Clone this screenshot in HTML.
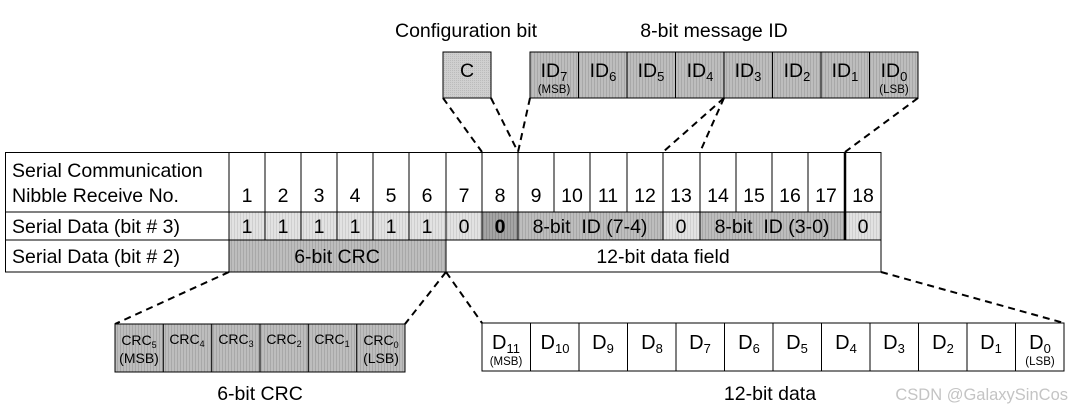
<!DOCTYPE html>
<html><head><meta charset="utf-8"><style>
html,body{margin:0;padding:0;background:#fff;}
svg{display:block;font-family:"Liberation Sans",Arial,sans-serif;}
</style></head><body>
<svg width="1074" height="414" viewBox="0 0 1074 414" xmlns="http://www.w3.org/2000/svg">
<defs>
<pattern id="pl" width="3" height="4" patternUnits="userSpaceOnUse"><rect width="3" height="4" fill="#e2e2e2"/><rect width="1" height="4" fill="#cfcfcf"/></pattern>
<pattern id="pm" width="3" height="4" patternUnits="userSpaceOnUse"><rect width="3" height="4" fill="#bdbdbd"/><rect width="1" height="4" fill="#a8a8a8"/></pattern>
<pattern id="pd" width="3" height="4" patternUnits="userSpaceOnUse"><rect width="3" height="4" fill="#a4a4a4"/><rect width="1" height="4" fill="#8e8e8e"/></pattern>
<pattern id="pc" width="2" height="2" patternUnits="userSpaceOnUse"><rect width="2" height="2" fill="#cfcfcf"/><rect width="1" height="1" fill="#bbb"/></pattern>
</defs>
<g font-size="19.5" fill="#000">
<text x="466" y="37" text-anchor="middle">Configuration bit</text>
<text x="714" y="37" text-anchor="middle">8-bit message ID</text>
</g>
<rect x="443" y="52" width="48" height="46" fill="url(#pc)" stroke="#000"/>
<text x="467" y="77" font-size="19.5" text-anchor="middle">C</text>
<g stroke="#000" fill="url(#pm)">
<rect x="530" y="52" width="388" height="46"/>
<line x1="578.5" y1="52" x2="578.5" y2="98"/><line x1="627" y1="52" x2="627" y2="98"/><line x1="675.5" y1="52" x2="675.5" y2="98"/><line x1="724" y1="52" x2="724" y2="98"/><line x1="772.5" y1="52" x2="772.5" y2="98"/><line x1="821" y1="52" x2="821" y2="98"/><line x1="869.5" y1="52" x2="869.5" y2="98"/>
</g>
<g font-size="19.5" text-anchor="middle">
<text x="554" y="77">ID<tspan font-size="13" dy="4">7</tspan></text>
<text x="603" y="77">ID<tspan font-size="13" dy="4">6</tspan></text>
<text x="651" y="77">ID<tspan font-size="13" dy="4">5</tspan></text>
<text x="700" y="77">ID<tspan font-size="13" dy="4">4</tspan></text>
<text x="748" y="77">ID<tspan font-size="13" dy="4">3</tspan></text>
<text x="797" y="77">ID<tspan font-size="13" dy="4">2</tspan></text>
<text x="845" y="77">ID<tspan font-size="13" dy="4">1</tspan></text>
<text x="894" y="77">ID<tspan font-size="13" dy="4">0</tspan></text>
</g>
<text x="554" y="93" font-size="11.5" text-anchor="middle">(MSB)</text>
<text x="894" y="93" font-size="11.5" text-anchor="middle">(LSB)</text>
<g stroke="#000" stroke-width="2" stroke-dasharray="7,5" fill="none">
<line x1="443" y1="98" x2="482" y2="152"/>
<line x1="491" y1="98" x2="518" y2="152"/>
<line x1="530" y1="98" x2="518" y2="152"/>
<line x1="724" y1="98" x2="663" y2="152"/>
<line x1="724" y1="98" x2="700" y2="152"/>
<line x1="918" y1="98" x2="845" y2="152"/>
<line x1="229" y1="272" x2="115" y2="324"/>
<line x1="446" y1="272" x2="405" y2="324"/>
<line x1="446" y1="272" x2="482" y2="323"/>
<line x1="881" y1="272" x2="1064" y2="323"/>
</g>
<rect x="229" y="212" width="253" height="28" fill="url(#pl)"/>
<rect x="482" y="212" width="36" height="28" fill="url(#pd)"/>
<rect x="518" y="212" width="145" height="28" fill="url(#pm)"/>
<rect x="663" y="212" width="37" height="28" fill="url(#pl)"/>
<rect x="700" y="212" width="145" height="28" fill="url(#pm)"/>
<rect x="845" y="212" width="36" height="28" fill="url(#pl)"/>
<rect x="229" y="240" width="217" height="32" fill="url(#pm)"/>
<g stroke="#000" stroke-width="1" fill="none">
<rect x="5.5" y="152.5" width="875.5" height="119.5"/>
<line x1="5" y1="212" x2="881" y2="212"/>
<line x1="5" y1="240" x2="881" y2="240"/>
<line x1="229" y1="152" x2="229" y2="272"/>
<line x1="265" y1="152" x2="265" y2="240"/><line x1="301" y1="152" x2="301" y2="240"/><line x1="337" y1="152" x2="337" y2="240"/><line x1="373" y1="152" x2="373" y2="240"/><line x1="409" y1="152" x2="409" y2="240"/><line x1="446" y1="152" x2="446" y2="272"/><line x1="482" y1="152" x2="482" y2="240"/><line x1="518" y1="152" x2="518" y2="240"/>
<line x1="554" y1="152" x2="554" y2="212"/><line x1="590" y1="152" x2="590" y2="212"/><line x1="627" y1="152" x2="627" y2="212"/>
<line x1="663" y1="152" x2="663" y2="240"/><line x1="700" y1="152" x2="700" y2="240"/>
<line x1="736" y1="152" x2="736" y2="212"/><line x1="772" y1="152" x2="772" y2="212"/><line x1="808" y1="152" x2="808" y2="212"/>
<line x1="845" y1="152" x2="845" y2="240" stroke-width="2.5"/>
</g>
<g font-size="19.5">
<text x="12" y="177">Serial Communication</text>
<text x="12" y="202">Nibble Receive No.</text>
<text x="12" y="233">Serial Data (bit # 3)</text>
<text x="12" y="263">Serial Data (bit # 2)</text>
</g>
<g font-size="19.5" text-anchor="middle">
<text x="247" y="202">1</text><text x="283" y="202">2</text><text x="319" y="202">3</text><text x="355" y="202">4</text><text x="391" y="202">5</text><text x="427" y="202">6</text><text x="464" y="202">7</text><text x="500" y="202">8</text><text x="536" y="202">9</text><text x="572" y="202">10</text><text x="608" y="202">11</text><text x="645" y="202">12</text><text x="681" y="202">13</text><text x="718" y="202">14</text><text x="754" y="202">15</text><text x="790" y="202">16</text><text x="826" y="202">17</text><text x="863" y="202">18</text>
<text x="247" y="233">1</text><text x="283" y="233">1</text><text x="319" y="233">1</text><text x="355" y="233">1</text><text x="391" y="233">1</text><text x="427" y="233">1</text><text x="464" y="233">0</text><text x="500" y="233" font-weight="bold">0</text>
<text x="590" y="233">8-bit&#160; ID (7-4)</text>
<text x="681" y="233">0</text>
<text x="772" y="233">8-bit&#160; ID (3-0)</text>
<text x="863" y="233">0</text>
<text x="337" y="263">6-bit CRC</text>
<text x="663" y="263">12-bit data field</text>
</g>
<rect x="115" y="324" width="290" height="48" fill="url(#pm)" stroke="#000"/>
<g stroke="#000"><line x1="163.3" y1="324" x2="163.3" y2="372"/><line x1="211.7" y1="324" x2="211.7" y2="372"/><line x1="260" y1="324" x2="260" y2="372"/><line x1="308.3" y1="324" x2="308.3" y2="372"/><line x1="356.7" y1="324" x2="356.7" y2="372"/></g>
<g font-size="14" text-anchor="middle">
<text x="139" y="345">CRC<tspan font-size="9" dy="3">5</tspan></text>
<text x="187" y="344">CRC<tspan font-size="9" dy="3">4</tspan></text>
<text x="236" y="344">CRC<tspan font-size="9" dy="3">3</tspan></text>
<text x="284" y="344">CRC<tspan font-size="9" dy="3">2</tspan></text>
<text x="332" y="344">CRC<tspan font-size="9" dy="3">1</tspan></text>
<text x="381" y="345">CRC<tspan font-size="9" dy="3">0</tspan></text>
<text x="139" y="363">(MSB)</text>
<text x="381" y="363">(LSB)</text>
</g>
<text x="260" y="400" font-size="19.5" text-anchor="middle">6-bit CRC</text>
<rect x="482" y="323" width="582" height="48" fill="#fff" stroke="#000"/>
<g stroke="#000"><line x1="530.5" y1="323" x2="530.5" y2="371"/><line x1="579" y1="323" x2="579" y2="371"/><line x1="627.5" y1="323" x2="627.5" y2="371"/><line x1="676" y1="323" x2="676" y2="371"/><line x1="724.5" y1="323" x2="724.5" y2="371"/><line x1="773" y1="323" x2="773" y2="371"/><line x1="821.5" y1="323" x2="821.5" y2="371"/><line x1="870" y1="323" x2="870" y2="371"/><line x1="918.5" y1="323" x2="918.5" y2="371"/><line x1="967" y1="323" x2="967" y2="371"/><line x1="1015.5" y1="323" x2="1015.5" y2="371"/></g>
<g font-size="20" text-anchor="middle">
<text x="506" y="349">D<tspan font-size="13" dy="4">11</tspan></text>
<text x="555" y="349">D<tspan font-size="13" dy="4">10</tspan></text>
<text x="603" y="349">D<tspan font-size="13" dy="4">9</tspan></text>
<text x="652" y="349">D<tspan font-size="13" dy="4">8</tspan></text>
<text x="700" y="349">D<tspan font-size="13" dy="4">7</tspan></text>
<text x="749" y="349">D<tspan font-size="13" dy="4">6</tspan></text>
<text x="797" y="349">D<tspan font-size="13" dy="4">5</tspan></text>
<text x="846" y="349">D<tspan font-size="13" dy="4">4</tspan></text>
<text x="894" y="349">D<tspan font-size="13" dy="4">3</tspan></text>
<text x="943" y="349">D<tspan font-size="13" dy="4">2</tspan></text>
<text x="991" y="349">D<tspan font-size="13" dy="4">1</tspan></text>
<text x="1040" y="349">D<tspan font-size="13" dy="4">0</tspan></text>
</g>
<text x="506" y="365" font-size="11.5" text-anchor="middle">(MSB)</text>
<text x="1040" y="365" font-size="11.5" text-anchor="middle">(LSB)</text>
<text x="770" y="400" font-size="19.5" text-anchor="middle">12-bit data</text>
<text x="1068" y="400" font-size="16.5" fill="#c4c4c4" text-anchor="end">CSDN @GalaxySinCos</text>
</svg>
</body></html>
